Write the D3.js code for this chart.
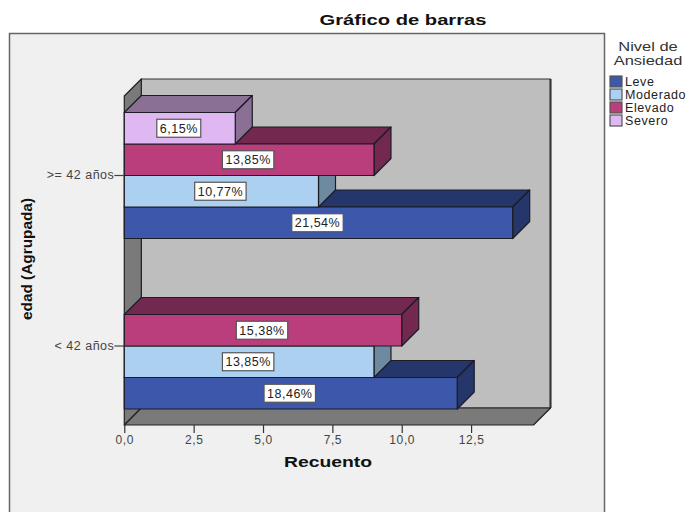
<!DOCTYPE html>
<html>
<head>
<meta charset="utf-8">
<script src="https://cdn.jsdelivr.net/npm/d3@7"></script>
<style>
  html, body { margin: 0; padding: 0; background: #fff; overflow: hidden; }
  text { font-family: "Liberation Sans", Arial, sans-serif; }
</style>
</head>
<body>
<div id="chart"></div>
<script>
// values
const ageGroups = [">= 42 años", "< 42 años"];
const levels = ["Leve", "Moderado", "Elevado", "Severo"];
const countsOlder = [14, 7, 9, 4];
const countsYounger = [12, 9, 10, null];
const pctOlder = ["21,54%", "10,77%", "13,85%", "6,15%"];
const pctYounger = ["18,46%", "13,85%", "15,38%", null];
const xTicks = [0, 2.5, 5, 7.5, 10, 12.5];
const frontColors = ["#3d58aa", "#acd0ef", "#ba3d7c", "#dfb8f2"];
const sideColors = ["#25366a", "#6e8aa0", "#73284f", "#8a7094"];

const svg = d3.select("#chart").append("svg")
  .attr("width", 686)
  .attr("height", 512);

// outer panel, its bottom edge is cut off by the picture
svg.append("rect")
  .attr("x", 9.5).attr("y", 33.5)
  .attr("width", 595).attr("height", 500)
  .attr("fill", "#f0f0f0")
  .attr("stroke", "#666")
  .attr("stroke-width", 1.5);

const x = d3.scaleLinear().domain([0, 14.75]).range([124.3, 533.5]);
const depth = 17;
const frontBottom = 425;
const frontTop = 96;

const y = d3.scaleBand()
  .domain(ageGroups)
  .range([112.5, 409])
  .paddingInner(0.261)
  .paddingOuter(0);

// Severo sits on top of each group
const ySub = d3.scaleBand()
  .domain(levels.slice().reverse())
  .range([0, y.bandwidth()]);

const polygon = (points, fill, stroke, width) => svg.append("polygon")
  .attr("points", points.map(p => p.join(",")).join(" "))
  .attr("fill", fill)
  .attr("stroke", stroke)
  .attr("stroke-width", width)
  .attr("stroke-linejoin", "round");

// the box the bars stand in
const x0 = x.range()[0];
const x1 = x.range()[1];
polygon([[x0 + depth, frontTop - depth], [x1 + depth, frontTop - depth], [x1 + depth, frontBottom - depth], [x0 + depth, frontBottom - depth]], "#bebebe", "#333", 1.2);
svg.append("line")
  .attr("x1", x1 + depth).attr("x2", x1 + depth)
  .attr("y1", frontTop - depth).attr("y2", frontBottom - depth)
  .attr("stroke", "#333").attr("stroke-width", 2);
polygon([[x0, frontTop], [x0 + depth, frontTop - depth], [x0 + depth, frontBottom - depth], [x0, frontBottom]], "#7a7a7a", "#222", 1.2);
polygon([[x0, frontBottom], [x0 + depth, frontBottom - depth], [x1 + depth, frontBottom - depth], [x1, frontBottom]], "#7a7a7a", "#222", 1.2);

// long table built from the lists, drawn back to front
const rows = [];
[countsYounger, countsOlder].forEach((counts, g) => {
  const group = g === 0 ? ageGroups[1] : ageGroups[0];
  const pct = g === 0 ? pctYounger : pctOlder;
  levels.forEach((level, i) => {
    if (counts[i] !== null) {
      rows.push({ group, level, i, count: counts[i], pct: pct[i] });
    }
  });
});

const edge = "#1c1c24";
rows.forEach(d => {
  const left = x(0);
  const right = x(d.count);
  const top = y(d.group) + ySub(d.level);
  const bottom = top + ySub.bandwidth();
  polygon([[left, top], [left + depth, top - depth], [right + depth, top - depth], [right, top]], sideColors[d.i], edge, 1.2);
  polygon([[right, top], [right + depth, top - depth], [right + depth, bottom - depth], [right, bottom]], sideColors[d.i], edge, 1.2);
  polygon([[left, top], [right, top], [right, bottom], [left, bottom]], frontColors[d.i], edge, 1.2);
});

// percentage labels in white boxes
rows.forEach(d => {
  const cx = (x(0) + x(d.count)) / 2;
  const cy = y(d.group) + ySub(d.level) + ySub.bandwidth() / 2;
  const box = svg.append("rect");
  const label = svg.append("text")
    .attr("x", cx - 1)
    .attr("y", cy + 4.5)
    .attr("text-anchor", "middle")
    .attr("font-size", 12.5)
    .attr("letter-spacing", 0.5)
    .attr("fill", "#222")
    .text(d.pct);
  const w = label.node().getComputedTextLength() + 6;
  box.attr("x", cx - 1 - w / 2)
    .attr("y", cy - 9)
    .attr("width", w)
    .attr("height", 18)
    .attr("fill", "#fff")
    .attr("stroke", "#555")
    .attr("stroke-width", 1.2);
});

// axes
const axisX = svg.append("g")
  .attr("transform", `translate(0,${frontBottom})`)
  .call(d3.axisBottom(x).tickValues(xTicks).tickSize(8).tickSizeOuter(0)
    .tickFormat(d => d3.format(".1f")(d).replace(".", ",")));
axisX.select(".domain").remove();
axisX.selectAll("line").attr("stroke", "#333").attr("stroke-width", 1.2);
axisX.selectAll("text")
  .attr("font-size", 12)
  .attr("font-family", "Liberation Sans")
  .attr("letter-spacing", 0.6)
  .attr("fill", "#444")
  .attr("y", 10);

const axisY = svg.append("g")
  .attr("transform", `translate(${x0},0)`)
  .call(d3.axisLeft(y).tickSize(10).tickSizeOuter(0));
axisY.select(".domain").remove();
axisY.selectAll("line").attr("stroke", "#444").attr("stroke-width", 1.2);
axisY.selectAll("text")
  .attr("font-size", 12.5)
  .attr("font-family", "Liberation Sans")
  .attr("letter-spacing", 0.5)
  .attr("x", -10)
  .attr("fill", "#444");

// titles
svg.append("text")
  .attr("x", 403).attr("y", 25)
  .attr("text-anchor", "middle")
  .attr("font-size", 15)
  .attr("font-weight", "bold")
  .attr("textLength", 167)
  .attr("lengthAdjust", "spacingAndGlyphs")
  .attr("fill", "#111")
  .text("Gráfico de barras");

svg.append("text")
  .attr("x", 328).attr("y", 467)
  .attr("text-anchor", "middle")
  .attr("font-size", 15)
  .attr("font-weight", "bold")
  .attr("textLength", 88)
  .attr("lengthAdjust", "spacingAndGlyphs")
  .attr("fill", "#111")
  .text("Recuento");

svg.append("text")
  .attr("transform", "translate(32,259) rotate(-90)")
  .attr("text-anchor", "middle")
  .attr("font-size", 15)
  .attr("font-weight", "bold")
  .attr("textLength", 122)
  .attr("lengthAdjust", "spacingAndGlyphs")
  .attr("fill", "#111")
  .text("edad (Agrupada)");

// legend
const legendTitle = ["Nivel de", "Ansiedad"];
svg.selectAll(".legend-title").data(legendTitle).enter().append("text")
  .attr("class", "legend-title")
  .attr("x", 648)
  .attr("y", (d, i) => 51 + i * 14)
  .attr("text-anchor", "middle")
  .attr("font-size", 13.5)
  .attr("fill", "#333")
  .text(d => d)
  .each(function () {
    // the original type is wider than Liberation Sans
    d3.select(this)
      .attr("lengthAdjust", "spacingAndGlyphs")
      .attr("textLength", this.getComputedTextLength() * 1.22);
  });

const legend = svg.selectAll(".legend-row").data(levels).enter().append("g")
  .attr("class", "legend-row")
  .attr("transform", (d, i) => `translate(610,${76 + i * 13})`);
legend.append("rect")
  .attr("width", 12).attr("height", 11)
  .attr("fill", (d, i) => frontColors[i])
  .attr("stroke", "#555")
  .attr("stroke-width", 1.2);
legend.append("text")
  .attr("x", 15).attr("y", 9.5)
  .attr("font-size", 12.5)
  .attr("letter-spacing", 0.6)
  .attr("fill", "#222")
  .text(d => d);
</script>
</body>
</html>
